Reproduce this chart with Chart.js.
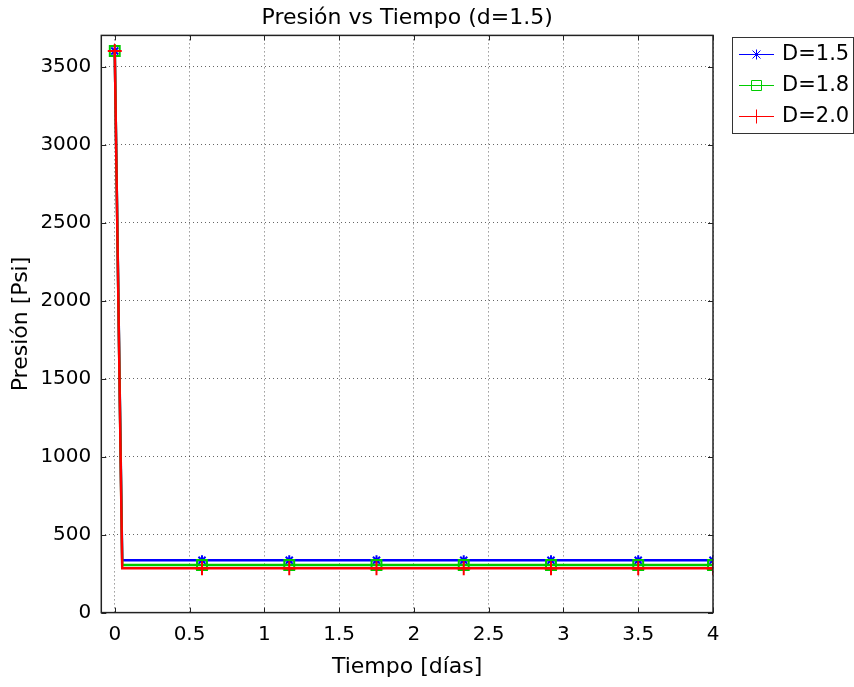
<!DOCTYPE html>
<html>
<head>
<meta charset="utf-8">
<script src="https://cdn.jsdelivr.net/npm/chart.js@4.4.1/dist/chart.umd.min.js"></script>
<style>
  html, body { margin: 0; padding: 0; background: #fff; }
  #wrap { width: 854px; height: 687px; }
</style>
</head>
<body>
<div id="wrap"><canvas id="presion"></canvas></div>
<script>
'use strict'
// datos
const tiempo = [0, 0.05, 0.5833, 1.1667, 1.75, 2.3333, 2.9167, 3.5, 4]
const presionD15 = [3600, 335, 335, 335, 335, 335, 335, 335, 335]
const presionD18 = [3600, 305, 305, 305, 305, 305, 305, 305, 305]
const presionD20 = [3600, 285, 285, 285, 285, 285, 285, 285, 285]
const etiquetas = ['D=1.5', 'D=1.8', 'D=2.0']
const ticksX = [0, 0.5, 1, 1.5, 2, 2.5, 3, 3.5, 4]
const ticksY = [0, 500, 1000, 1500, 2000, 2500, 3000, 3500]

const colores = ['#0000ff', '#00cc00', '#ff0000']
const marcas = ['star', 'rect', 'cross']
const radios = [5, 7, 7]

Chart.defaults.font.family = 'DejaVu Sans'
Chart.defaults.font.size = 20
Chart.defaults.color = '#000'

const serie = (i, valores) => ({
  label: etiquetas[i],
  data: tiempo.map((t, k) => ({x: t, y: valores[k]})),
  order: 2 - i,
  borderColor: colores[i],
  backgroundColor: 'transparent',
  borderWidth: 2.5,
  pointStyle: marcas[i],
  pointRadius: tiempo.map((t, k) => k === 1 ? 0 : radios[i]),
  pointBorderColor: colores[i],
  pointBackgroundColor: 'transparent',
  pointBorderWidth: 2,
  tension: 0,
  clip: 0
})

// dibuja un marcador sencillo para la leyenda
const marcador = (ctx, tipo, x, y, r) => {
  ctx.beginPath()
  if (tipo === 'star') {
    ctx.moveTo(x, y - r); ctx.lineTo(x, y + r)
    ctx.moveTo(x - r * 0.8, y - r * 0.8); ctx.lineTo(x + r * 0.8, y + r * 0.8)
    ctx.moveTo(x - r * 0.8, y + r * 0.8); ctx.lineTo(x + r * 0.8, y - r * 0.8)
  } else if (tipo === 'rect') {
    ctx.rect(x - r, y - r, 2 * r, 2 * r)
  } else {
    ctx.moveTo(x, y - r); ctx.lineTo(x, y + r)
    ctx.moveTo(x - r, y); ctx.lineTo(x + r, y)
  }
  ctx.stroke()
}

const marco = {
  id: 'marco',
  afterDraw(chart) {
    const {ctx, chartArea: a, scales: {x, y}} = chart
    ctx.save()
    ctx.strokeStyle = '#222'
    ctx.lineWidth = 1.5
    ctx.strokeRect(a.left, a.top, a.right - a.left, a.bottom - a.top)
    ctx.lineWidth = 1
    ctx.beginPath()
    ticksX.forEach(v => {
      const px = Math.round(x.getPixelForValue(v)) + 0.5
      ctx.moveTo(px, a.bottom); ctx.lineTo(px, a.bottom - 5)
      ctx.moveTo(px, a.top); ctx.lineTo(px, a.top + 5)
    })
    ticksY.forEach(v => {
      const py = Math.round(y.getPixelForValue(v)) + 0.5
      ctx.moveTo(a.left, py); ctx.lineTo(a.left + 5, py)
      ctx.moveTo(a.right, py); ctx.lineTo(a.right - 5, py)
    })
    ctx.stroke()

    // leyenda
    ctx.strokeStyle = '#333'
    ctx.strokeRect(732.5, 37.5, 121, 96)
    const filas = [54, 85, 116]
    ctx.font = '21px "DejaVu Sans"'
    ctx.textBaseline = 'middle'
    ctx.textAlign = 'left'
    etiquetas.forEach((et, i) => {
      const yy = filas[i] + 0.5
      ctx.strokeStyle = colores[i]
      ctx.lineWidth = 1
      ctx.beginPath(); ctx.moveTo(739, yy); ctx.lineTo(774, yy); ctx.stroke()
      marcador(ctx, marcas[i], 756.5, yy, i === 2 ? 7 : 5)
      ctx.fillStyle = '#000'
      ctx.fillText(et, 782, filas[i] + 1)
    })
    ctx.restore()
  }
}

const config = {
  type: 'line',
  data: {
    datasets: [serie(0, presionD15), serie(1, presionD18), serie(2, presionD20)]
  },
  options: {
    animation: false,
    responsive: true,
    maintainAspectRatio: false,
    layout: { padding: { left: 4, right: 141, top: 1, bottom: 2 } },
    plugins: {
      legend: { display: false },
      tooltip: { enabled: false },
      title: {
        display: true,
        text: 'Presión vs Tiempo (d=1.5)',
        fullSize: false,
        font: { size: 22, weight: 'normal' },
        padding: { top: 4, bottom: 4 }
      }
    },
    scales: {
      x: {
        type: 'linear',
        min: -0.09,
        max: 4,
        afterBuildTicks: s => { s.ticks = ticksX.map(v => ({value: v})) },
        ticks: { padding: 10, maxRotation: 0, callback: v => String(v) },
        grid: { color: 'rgba(0,0,0,0.6)', drawTicks: false, tickLength: 0, lineWidth: 1 },
        border: { display: false, dash: [1, 3] },
        title: { display: true, text: 'Tiempo [días]', font: { size: 22 }, padding: { top: -3, bottom: 5 } }
      },
      y: {
        type: 'linear',
        min: 0,
        max: 3700,
        afterBuildTicks: s => { s.ticks = ticksY.map(v => ({value: v})) },
        ticks: { padding: 10, callback: v => String(v) },
        grid: { color: 'rgba(0,0,0,0.6)', drawTicks: false, tickLength: 0, lineWidth: 1 },
        border: { display: false, dash: [1, 3] },
        title: { display: true, text: 'Presión [Psi]', font: { size: 22 }, padding: { top: 4, bottom: -4 } }
      }
    }
  },
  plugins: [marco]
}

const grafico = new Chart(document.querySelector('#presion'), config)
</script>
</body>
</html>
